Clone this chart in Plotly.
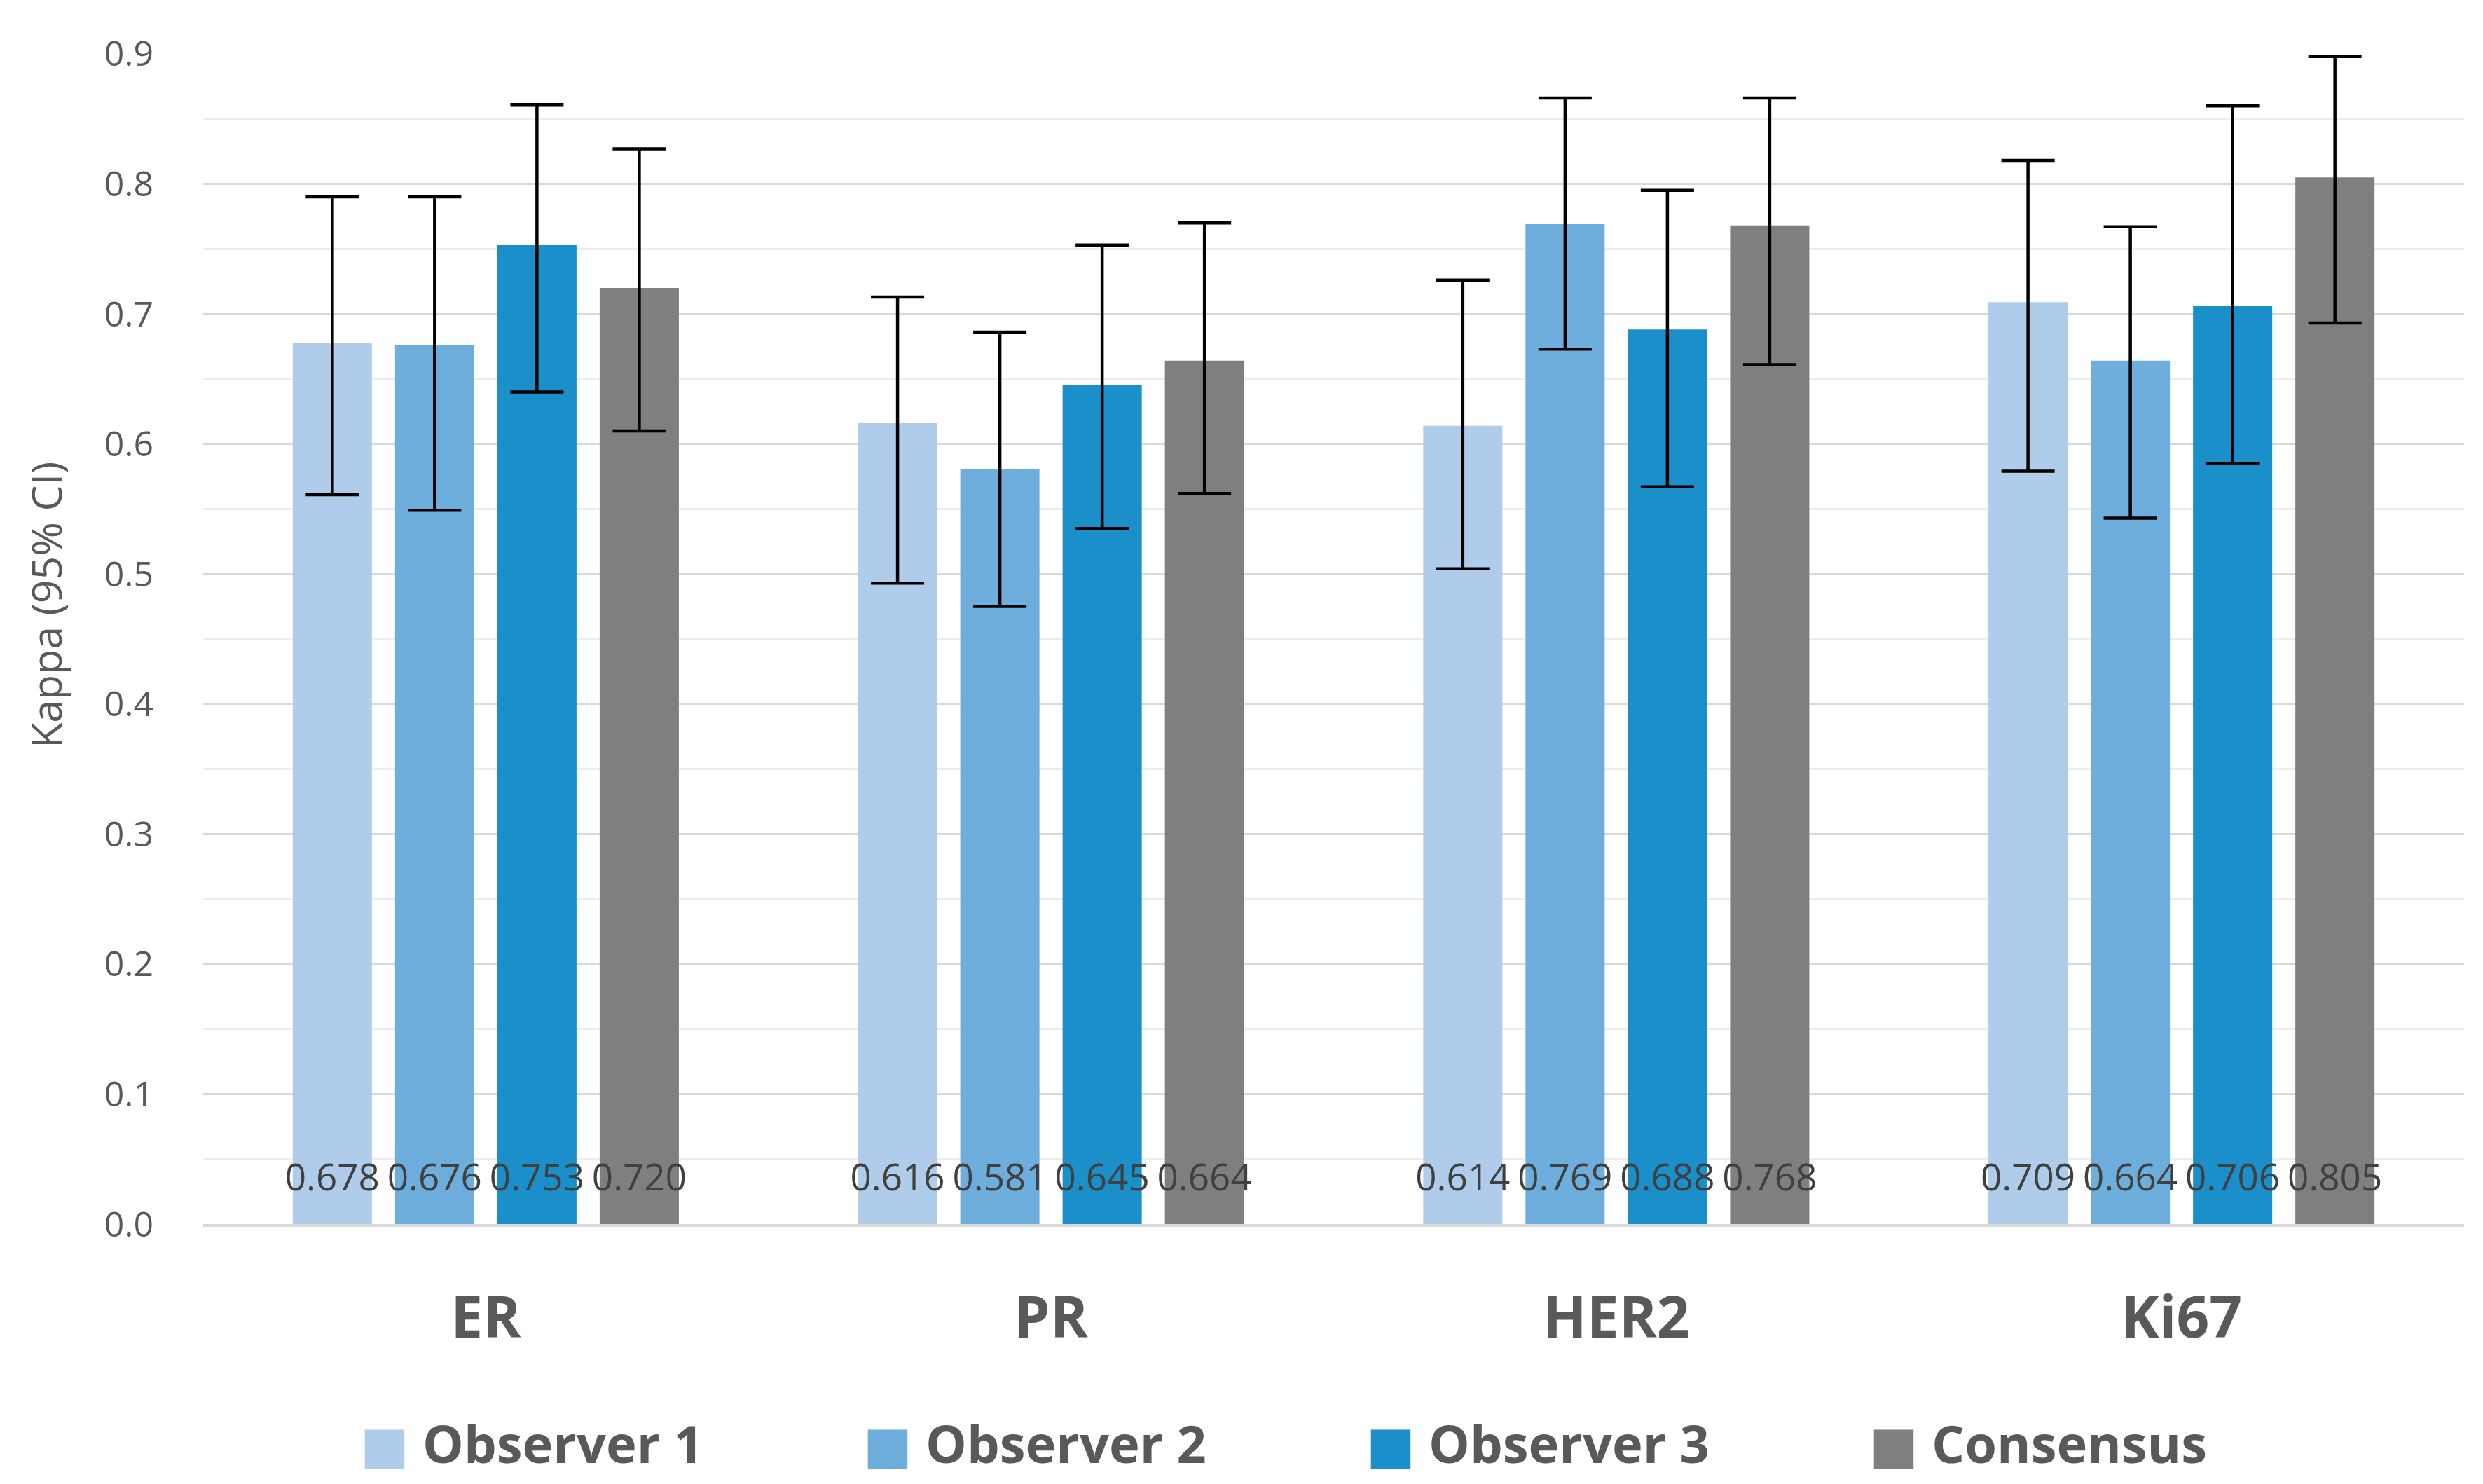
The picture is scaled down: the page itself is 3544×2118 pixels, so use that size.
import plotly.graph_objects as go

categories = ["ER", "PR", "HER2", "Ki67"]
series_names = ["Observer 1", "Observer 2", "Observer 3", "Consensus"]
colors = ["#AFCDEA", "#6EAEDD", "#1A8FC9", "#7F7F7F"]

obs1 = [0.678, 0.616, 0.614, 0.709]
obs2 = [0.676, 0.581, 0.769, 0.664]
obs3 = [0.753, 0.645, 0.688, 0.706]
cons = [0.720, 0.664, 0.768, 0.805]

obs1_lo = [0.561, 0.493, 0.504, 0.579]
obs1_hi = [0.790, 0.713, 0.726, 0.818]
obs2_lo = [0.549, 0.475, 0.673, 0.543]
obs2_hi = [0.790, 0.686, 0.866, 0.767]
obs3_lo = [0.640, 0.535, 0.567, 0.585]
obs3_hi = [0.861, 0.753, 0.795, 0.860]
cons_lo = [0.610, 0.562, 0.661, 0.693]
cons_hi = [0.827, 0.770, 0.866, 0.898]

values = [obs1, obs2, obs3, cons]
lows = [obs1_lo, obs2_lo, obs3_lo, cons_lo]
highs = [obs1_hi, obs2_hi, obs3_hi, cons_hi]

y_title = "Kappa (95% CI)"

LABEL_Y = 0.033   # vertical placement of the value labels (style)
BARGAP = 0.276

fig = go.Figure()
for i, (name, col, v, lo, hi) in enumerate(zip(series_names, colors, values, lows, highs)):
    fig.add_trace(go.Bar(
        name=name, x=categories, y=v, offsetgroup=str(i), showlegend=False,
        marker=dict(color=col, line=dict(width=0)),
        error_y=dict(type="data", symmetric=False,
                     array=[h - a for h, a in zip(hi, v)],
                     arrayminus=[a - l for l, a in zip(lo, v)],
                     color="black", thickness=4.5, width=38),
        hoverinfo="skip",
    ))
for i, (name, v) in enumerate(zip(series_names, values)):
    fig.add_trace(go.Scatter(
        x=categories, y=[LABEL_Y] * len(v), mode="text", offsetgroup=str(i),
        text=[f"{t:.3f}" for t in v], textposition="middle center",
        textfont=dict(family="Open Sans", size=53, color="#404040"),
        showlegend=False, hoverinfo="skip",
    ))
for name, col in zip(series_names, colors):
    fig.add_trace(go.Scatter(
        x=[None], y=[None], mode="markers",
        name=f"<span style='color:{col};font-family:DejaVu Sans;font-weight:normal'>■</span> {name}",
        marker=dict(symbol="square", size=1, color="rgba(0,0,0,0)"),
    ))

fig.update_layout(
    width=3544, height=2118,
    barmode="group", bargap=BARGAP, bargroupgap=0.226,
    scattermode="group", scattergap=BARGAP,
    paper_bgcolor="white", plot_bgcolor="white",
    margin=dict(l=282, r=35, t=68, b=370),
    font=dict(family="Open Sans", color="#595959"),
    showlegend=True,
    legend=dict(orientation="h", x=0.057, xanchor="left", y=-0.187, yanchor="middle",
                entrywidth=673, entrywidthmode="pixels", itemwidth=30,
                font=dict(family="Open Sans", size=74, color="#595959", weight="bold"),
                traceorder="normal"),
    annotations=[dict(text=y_title, xref="paper", yref="paper", x=-0.0697, y=0.5286,
                      xanchor="center", yanchor="middle", textangle=-90, showarrow=False,
                      font=dict(family="Open Sans", size=59, color="#595959"))],
)
fig.update_yaxes(
    range=[0, 0.9005], dtick=0.1, tickformat=".1f",
    showgrid=True, gridcolor="#D9D9D9", gridwidth=3,
    minor=dict(dtick=0.05, showgrid=True, gridcolor="#EDEDED", gridwidth=3),
    zeroline=False, showline=False, ticks="",
    tickfont=dict(family="Open Sans", size=50, color="#595959"),
    ticklabelstandoff=70,
)
fig.update_xaxes(
    showline=True, linecolor="#D9D9D9", linewidth=4, ticks="",
    tickfont=dict(family="Open Sans", size=82, color="#595959", weight="bold"),
    ticklabelstandoff=60,
)
fig.write_html("out.html")
